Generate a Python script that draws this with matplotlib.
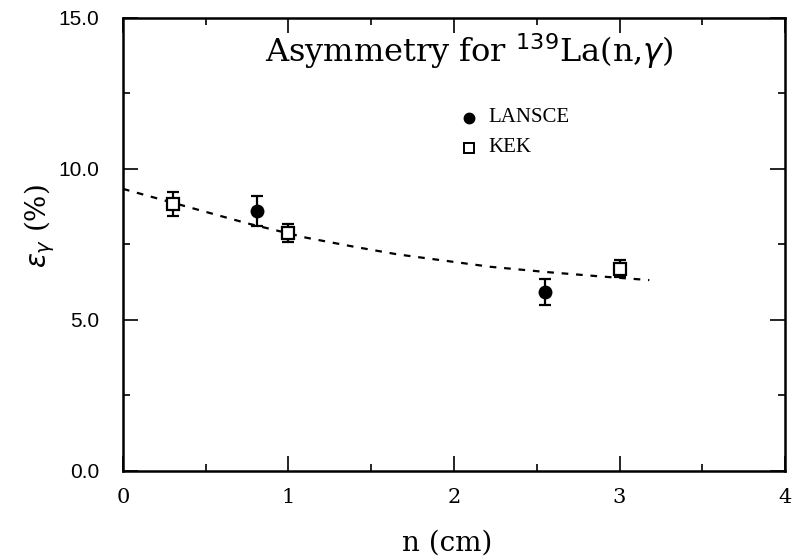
import matplotlib
matplotlib.use("Agg")
import matplotlib.pyplot as plt
from matplotlib.ticker import MultipleLocator

# Data
kek_x = [0.30, 1.00, 3.00]
kek_y = [8.85, 7.88, 6.70]
kek_err = [0.40, 0.30, 0.29]

lansce_x = [0.81, 2.55]
lansce_y = [8.60, 5.93]
lansce_err = [0.50, 0.43]

fit_x = [0.0, 0.42, 0.75, 1.11, 1.40, 1.66, 2.22, 2.55, 2.91, 3.18]
fit_y = [9.34, 8.70, 8.20, 7.72, 7.42, 7.17, 6.76, 6.59, 6.43, 6.32]

xticks = [0, 1, 2, 3, 4]
yticks = [0.0, 5.0, 10.0, 15.0]

fig = plt.figure(figsize=(7.93, 5.60), dpi=100)
ax = fig.add_axes([0.155, 0.159, 0.835, 0.809])

ax.plot(fit_x, fit_y, color="black", lw=1.6, dashes=(3.0, 3.5))

ax.errorbar(kek_x, kek_y, yerr=kek_err, fmt="s", ms=9, mfc="white", mec="black",
            mew=1.6, ecolor="black", elinewidth=1.6, capsize=4.5, capthick=1.6, zorder=4)
ax.errorbar(lansce_x, lansce_y, yerr=lansce_err, fmt="o", ms=9, mfc="black", mec="black",
            ecolor="black", elinewidth=1.6, capsize=4.5, capthick=1.6, zorder=4)

# Legend drawn by hand like the original
ax.plot([2.09], [11.7], "o", ms=7.5, color="black")
ax.plot([2.09], [10.7], "s", ms=6.5, mfc="white", mec="black", mew=1.4)
ax.text(2.21, 11.7, "LANSCE", family="Liberation Serif", fontsize=15, va="center")
ax.text(2.21, 10.7, "KEK", family="Liberation Serif", fontsize=15, va="center")

ax.text(2.09, 13.55, "Asymmetry for $^{139}$La(n,$\\gamma$)", family="DejaVu Serif",
        fontsize=23, ha="center", va="baseline")

ax.set_xlim(0, 4)
ax.set_ylim(0, 15)
ax.set_xticks(xticks)
ax.set_yticks(yticks)
ax.set_xticklabels([str(t) for t in xticks], family="DejaVu Serif", fontsize=15)
ax.set_yticklabels([f"{t:.1f}" for t in yticks], family="Liberation Sans", fontsize=15)
ax.xaxis.set_minor_locator(MultipleLocator(0.5))
ax.yaxis.set_minor_locator(MultipleLocator(2.5))
ax.tick_params(which="both", direction="in", top=True, right=True, width=1.2)
ax.tick_params(which="major", length=11, pad=12)
ax.tick_params(which="minor", length=5)
ax.tick_params(axis="y", pad=17)
for s in ax.spines.values():
    s.set_linewidth(1.8)

ax.set_xlabel("n (cm)", family="DejaVu Serif", fontsize=20)
ax.set_ylabel("$\\varepsilon_\\gamma$ (%)", family="DejaVu Serif", fontsize=20)
ax.xaxis.set_label_coords(0.49, -0.13)
ax.yaxis.set_label_coords(-0.10, 0.54)

plt.savefig("out.png", dpi=100)
